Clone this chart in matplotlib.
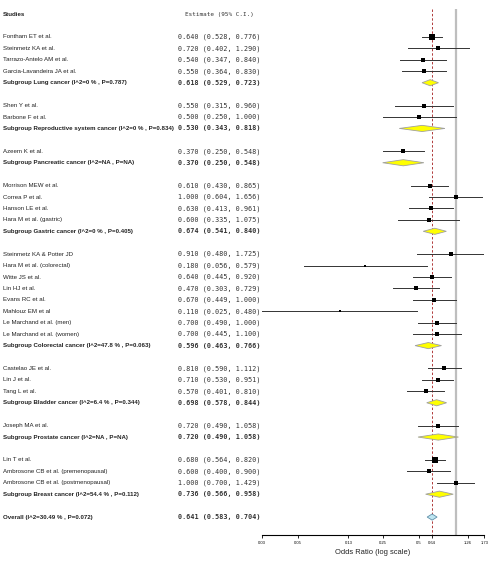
import numpy as np
import matplotlib
matplotlib.use("Agg")
import matplotlib.pyplot as plt
import matplotlib.transforms as mtransforms

# study level data, grouped by cancer site
groups = ["Lung cancer", "Reproductive system cancer", "Pancreatic cancer",
          "Gastric cancer", "Colorectal cancer", "Bladder cancer",
          "Prostate cancer", "Breast cancer"]

studies = [
    ["Fontham ET et al.", "Steinmetz KA et al.", "Tarrazo-Antelo AM et al.",
     "Garcia-Lavandeira JA et al."],
    ["Shen Y et al.", "Barbone F et al."],
    ["Azeem K et al."],
    ["Morrison MEW et al.", "Correa P et al.", "Hanson LE et al.",
     "Hara M et al. (gastric)"],
    ["Steinmetz KA & Potter JD", "Hara M et al. (colorectal)", "Witte JS et al.",
     "Lin HJ et al.", "Evans RC et al.", "Mahlouz EM et al",
     "Le Marchand et al. (men)", "Le Marchand et al. (women)"],
    ["Castelao JE et al.", "Lin J et al.", "Tang L et al."],
    ["Joseph MA et al."],
    ["Lin T et al.", "Ambrosone CB et al. (premenopausal)",
     "Ambrosone CB et al. (postmenopausal)"],
]
est = [[0.640, 0.720, 0.540, 0.550], [0.550, 0.500], [0.370],
       [0.610, 1.000, 0.630, 0.600],
       [0.910, 0.180, 0.640, 0.470, 0.670, 0.110, 0.700, 0.700],
       [0.810, 0.710, 0.570], [0.720], [0.680, 0.600, 1.000]]
lower = [[0.528, 0.402, 0.347, 0.364], [0.315, 0.250], [0.250],
         [0.430, 0.604, 0.413, 0.335],
         [0.480, 0.056, 0.445, 0.303, 0.449, 0.025, 0.490, 0.445],
         [0.590, 0.530, 0.401], [0.490], [0.564, 0.400, 0.700]]
upper = [[0.776, 1.290, 0.840, 0.830], [0.960, 1.000], [0.548],
         [0.865, 1.656, 0.961, 1.075],
         [1.725, 0.579, 0.920, 0.729, 1.000, 0.480, 1.000, 1.100],
         [1.112, 0.951, 0.810], [1.058], [0.820, 0.900, 1.429]]

# subgroup summaries
sub_est = [0.618, 0.530, 0.370, 0.674, 0.596, 0.698, 0.720, 0.736]
sub_lower = [0.529, 0.343, 0.250, 0.541, 0.463, 0.578, 0.490, 0.566]
sub_upper = [0.723, 0.818, 0.548, 0.840, 0.766, 0.844, 1.058, 0.958]
sub_i2 = ["0", "0", "NA", "0", "47.8", "6.4", "NA", "54.4"]
sub_p = ["0.787", "0.834", "NA", "0.405", "0.063", "0.344", "NA", "0.112"]

overall = (0.641, 0.583, 0.704)
overall_i2 = "30.49"
overall_p = "0.072"

xtick_vals = [0.025, 0.05, 0.13, 0.25, 0.5, 0.64, 1.26, 1.73]
xtick_labels = ["0.03", "0.05", "0.13", "0.25", "0.5", "0.64", "1.26", "1.73"]


def main():
    W, H = 490, 566
    fig = plt.figure(figsize=(W / 100, H / 100), dpi=100)
    fig.patch.set_facecolor("white")

    # forest panel placed in pixel coords
    x0, x1 = 261.7, 484.3
    ybot, ytop = 535, 5
    ax = fig.add_axes([x0 / W, (H - ybot) / H, (x1 - x0) / W, (ybot - ytop) / H])
    row0, step = 37, 11.43
    ax.set_xscale("log")
    ax.set_xlim(0.025, 1.73)
    ax.set_ylim((ybot - row0) / step, (ytop - row0) / step)

    for s in ["top", "right", "left"]:
        ax.spines[s].set_visible(False)
    ax.spines["bottom"].set_linewidth(0.8)
    ax.set_yticks([])
    ax.xaxis.set_minor_locator(matplotlib.ticker.NullLocator())
    ax.set_xticks(xtick_vals)
    ax.set_xticklabels(xtick_labels, fontsize=3.0, family="Liberation Sans")
    ax.tick_params(axis="x", length=2.5, width=0.6, pad=2)
    ax.set_xlabel("Odds Ratio (log scale)", fontsize=5.4, labelpad=2.5,
                  family="Liberation Sans", color="#222222")

    tr = mtransforms.blended_transform_factory(fig.transFigure, ax.transData)
    lab_font = dict(family="Liberation Sans", fontsize=4.4,
                    color="#222222", va="center", transform=tr)
    mono_font = dict(family="DejaVu Sans Mono", fontsize=4.9, color="#333333",
                     va="center", transform=tr)
    xl = 3 / W
    xe = 178 / W

    ax.text(xl, -2, "Studies", fontweight="bold", **lab_font)
    ax.text(185 / W, -2, "Estimate (95% C.I.)", **{**mono_font, "fontsize": 4.3})

    # weights for square sizes
    all_w = []
    for g in range(len(groups)):
        for lo, hi in zip(lower[g], upper[g]):
            se = (np.log(hi) - np.log(lo)) / 3.92
            all_w.append(1 / se**2)
    wmax = max(all_w)

    def diamond(y, e, lo, hi, fc, ec):
        h = 0.27
        ax.fill([lo, e, hi, e], [y, y - h, y, y + h], facecolor=fc,
                edgecolor=ec, linewidth=0.6, zorder=3)

    row = 0
    k = 0
    for g, name in enumerate(groups):
        for j, st in enumerate(studies[g]):
            e, lo, hi = est[g][j], lower[g][j], upper[g][j]
            ax.plot([lo, hi], [row, row], color="#333333", lw=0.7, zorder=2)
            side = 2 + 4 * (all_w[k] / wmax) ** 0.4
            ax.plot(e, row, marker="s", color="black", markersize=side * 0.72,
                    markeredgewidth=0, zorder=4)
            ax.text(xl, row, st, **lab_font)
            ax.text(xe, row, f"{e:.3f} ({lo:.3f}, {hi:.3f})", **mono_font)
            row += 1
            k += 1
        diamond(row, sub_est[g], sub_lower[g], sub_upper[g], "#FFFF00", "#A0A0A0")
        if sub_i2[g] == "NA":
            het = "(I^2=NA , P=NA)"
        else:
            het = f"(I^2={sub_i2[g]} % , P={sub_p[g]})"
        ax.text(xl, row, f"Subgroup {name} {het}", fontweight="bold", **lab_font)
        ax.text(xe, row, f"{sub_est[g]:.3f} ({sub_lower[g]:.3f}, {sub_upper[g]:.3f})",
                fontweight="bold", **mono_font)
        row += 2

    e, lo, hi = overall
    diamond(row, e, lo, hi, "#BFE6F2", "#5F8FA8")
    ax.text(xl, row, f"Overall (I^2={overall_i2} % , P={overall_p})",
            fontweight="bold", **lab_font)
    ax.text(xe, row, f"{e:.3f} ({lo:.3f}, {hi:.3f})", fontweight="bold", **mono_font)

    ylo = (ybot - row0) / step
    yhi = (9 - row0) / step
    ax.vlines(1.0, yhi, ylo, color="#BEBEBE", lw=1.6, zorder=1)
    ax.vlines(e, yhi, ylo, color="#B03A3A", lw=0.7, linestyles=(0, (2.5, 2)), zorder=1)

    fig.savefig("out.png", dpi=100, facecolor="white")


if __name__ == "__main__":
    main()
